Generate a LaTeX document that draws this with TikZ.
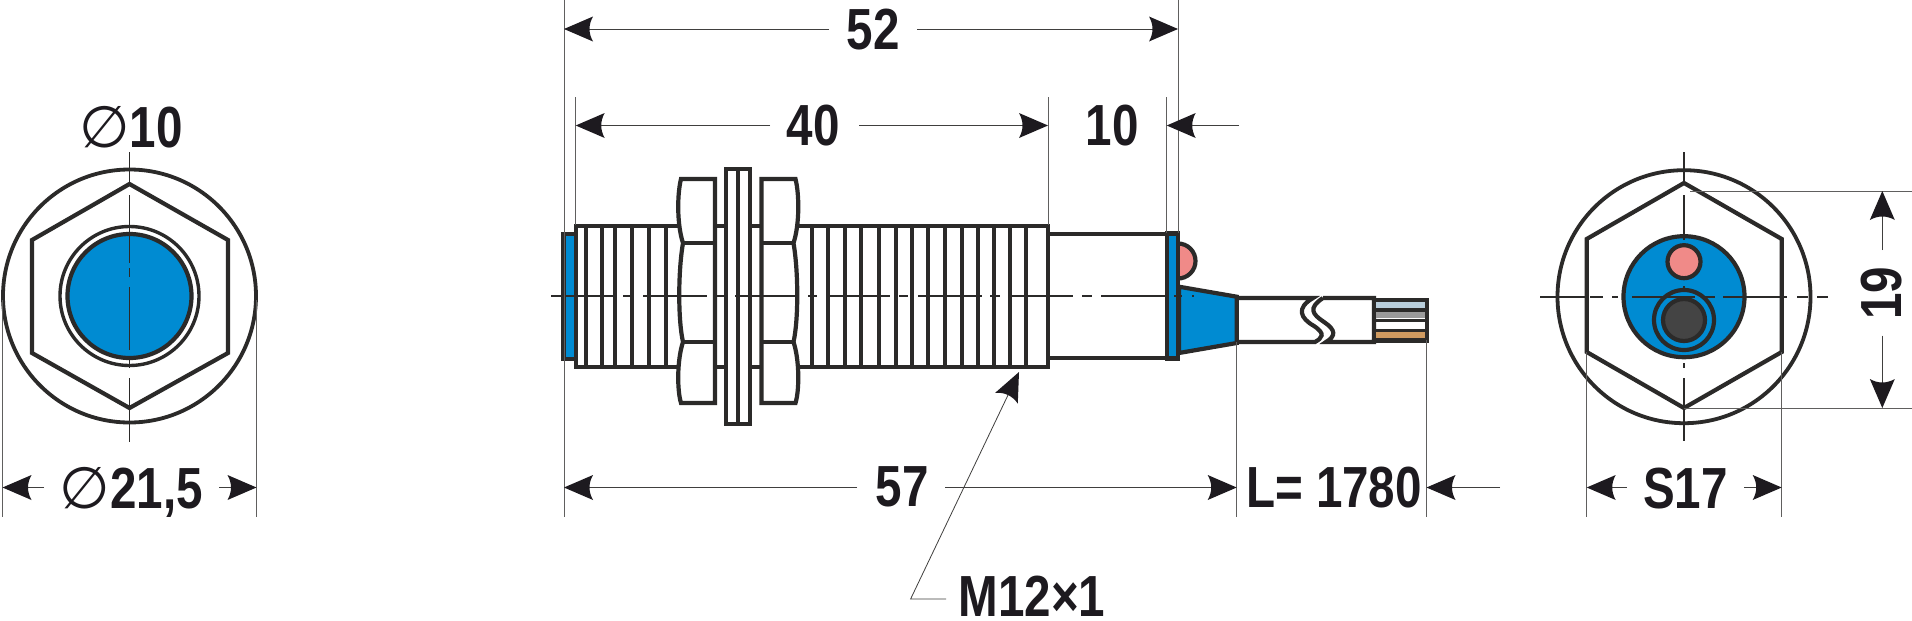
\documentclass[tikz,border=0pt]{standalone}
\usepackage{fontspec}
\setmainfont{Liberation Sans}[FakeStretch=0.82,BoldFont={Liberation Sans Bold}]
\newfontfamily\dejafont{DejaVu Sans}
\usetikzlibrary{arrows.meta}
\definecolor{ink}{HTML}{2B2A29}
\definecolor{txt}{HTML}{1D1A1F}
\definecolor{sblue}{HTML}{008BD2}
\definecolor{sred}{HTML}{F08A88}
\definecolor{sdark}{HTML}{444444}
\definecolor{wblue}{HTML}{B9CEDB}
\definecolor{wgray}{HTML}{9A9A9A}
\definecolor{wor}{HTML}{CF9A60}
\pgfdeclarearrow{name=DimTip,
  setup code={\pgfarrowssettipend{0pt}\pgfarrowssetlineend{-22pt}\pgfarrowssetbackend{-29pt}\pgfarrowshullpoint{0pt}{0pt}\pgfarrowshullpoint{-29pt}{12.5pt}\pgfarrowshullpoint{-29pt}{-12.5pt}},
  drawing code={\pgfpathmoveto{\pgfpoint{0pt}{0pt}}\pgfpathlineto{\pgfpoint{-29pt}{12.5pt}}\pgfpathquadraticcurveto{\pgfpoint{-22pt}{0pt}}{\pgfpoint{-29pt}{-12.5pt}}\pgfpathclose\pgfusepathqfill},
  defaults={}}
\tikzset{
  part/.style={draw=ink,line width=4.2pt,line join=miter},
  thin part/.style={draw=ink,line width=3.8pt},
  axis/.style={draw=ink,line width=1.6pt},
  ext/.style={draw=ink!75,line width=1pt},
  dimline/.style={draw=ink!90,line width=1pt,-{DimTip[fill=txt]}},
  label/.style={inner sep=0pt,text=txt,font=\fontsize{58}{60}\selectfont\bfseries,text depth=0pt},
}
\begin{document}
\begin{tikzpicture}[x=1pt,y=-1pt,line cap=butt]
\useasboundingbox (0,0) rectangle (1912,621);
\fill[white] (0,0) rectangle (1912,621);
% ---- left view
\coordinate (lc) at (129.5,296);
\draw[part,line width=3.8pt] (lc) circle[radius=126.5];
\draw[part] (129.5,184)--(228,240)--(228,353)--(129.5,408)--(32,353)--(32,240)--cycle;
\draw[part,line width=3.4pt] (lc) circle[radius=69.5];
\draw[part,fill=sblue] (lc) circle[radius=62];
\foreach \a/\b in {152/184,195/263,268/277,287/350,360/368,378/442}
  \draw[axis] (129.5,\a)--(129.5,\b);
\node[label] (dia10) at (131,126.5) {{\dejafont\mdseries ∅}10};
\node[label] (dia21) at (131.5,487.5) {{\dejafont\mdseries ∅}21,5};
\coordinate (l1) at (2.5,300); \coordinate (l1b) at (2.5,517);
\coordinate (l2) at (256.5,300); \coordinate (l2b) at (256.5,517);
\draw[ext] (l1)--(l1b); \draw[ext] (l2)--(l2b);
\coordinate (l1a) at (2.5,487.5); \coordinate (l1t) at (44,487.5);
\coordinate (l2a) at (256.5,487.5); \coordinate (l2t) at (219,487.5);
\draw[dimline] (l1t)--(l1a); \draw[dimline] (l2t)--(l2a);
% ---- sensor body
\draw[part,fill=white] (576,225.7) rectangle (1048,367);
\foreach \x in {585.7,602,615,631.7,649,666,811.7,828,845,861,879,895.7,911.7,928.3,945,961.7,977.7,994.3,1009.7,1026.3}
  \draw[thin part] (\x,225.7)--(\x,367);
\draw[part,fill=sblue] (563.5,234) rectangle (576,359);
% nuts
\begin{scope}
\draw[part,fill=white] (681,179)--(715,179)--(715,403)--(681,403)
  .. controls (677,390) and (677,360) .. (683,342)
  .. controls (678,320) and (678,272) .. (683,243)
  .. controls (677,225) and (677,195) .. (681,179)--cycle;
\draw[part] (683,243)--(715,243) (683,342)--(715,342);
\end{scope}
\begin{scope}[shift={(1476.5,0)},xscale=-1]
\draw[part,fill=white] (681,179)--(715,179)--(715,403)--(681,403)
  .. controls (677,390) and (677,360) .. (683,342)
  .. controls (678,320) and (678,272) .. (683,243)
  .. controls (677,225) and (677,195) .. (681,179)--cycle;
\draw[part] (683,243)--(715,243) (683,342)--(715,342);
\end{scope}
\draw[part,fill=white] (726,169) rectangle (750,424);
\draw[part] (738,169)--(738,424);
% rear
\draw[part,fill=white] (1048,234) rectangle (1166.7,358);
\draw[part,fill=sred] (1178,243.5) arc[start angle=-90,end angle=90,radius=17.5];
\draw[part,fill=sblue] (1166.7,233.5) rectangle (1178,358.5);
\draw[part,fill=sblue] (1179,286.7)--(1236.7,296.7)--(1236.7,343)--(1179,353)--cycle;
% cable
\draw[part] (1236.7,298)--(1313,298) .. controls (1296,308) and (1300,318) .. (1314,326) .. controls (1326,334) and (1322,338) .. (1315,342)--(1236.7,342);
\draw[part] (1323,298)--(1374,298)--(1374,342)--(1326,342) .. controls (1336,336) and (1336,330) .. (1324,322) .. controls (1312,314) and (1308,308) .. (1323,298);
% wires
\fill[wblue] (1374,302) rectangle (1427,308);
\fill[wgray] (1374,312) rectangle (1427,318);
\fill[wor] (1374,332) rectangle (1427,338);
\draw[part] (1374,300) rectangle (1427,340.5);
\draw[part,line width=3.6pt] (1374,310)--(1427,310) (1374,320.3)--(1427,320.3) (1374,330.3)--(1427,330.3);
% centre line
\foreach \a/\b in {551/613,623/634,643/707,717/725,735/797,808/817,827/890,899/908,918/982,990/1000,1011/1073,1082/1092,1101/1166,1174/1176,1180/1182,1192/1194}
  \draw[axis] (\a,296)--(\b,296);
% extension lines
\coordinate (e52l) at (564,0); \coordinate (e52lb) at (564,517);
\coordinate (e52r) at (1178,0); \coordinate (e52rb) at (1178,233);
\coordinate (e40l) at (575.7,97); \coordinate (e40lb) at (575.7,225);
\coordinate (e40r) at (1048,97); \coordinate (e40rb) at (1048,225);
\coordinate (e10r) at (1166.7,97); \coordinate (e10rb) at (1166.7,233);
\coordinate (e57r) at (1236.7,342); \coordinate (e57rb) at (1236.7,517);
\coordinate (eLr) at (1426.5,340); \coordinate (eLrb) at (1426.5,517);
\draw[ext] (e52l)--(e52lb); \draw[ext] (e52r)--(e52rb);
\draw[ext] (e40l)--(e40lb); \draw[ext] (e40r)--(e40rb);
\draw[ext] (e10r)--(e10rb); \draw[ext] (e57r)--(e57rb); \draw[ext] (eLr)--(eLrb);
% dims
\node[label] (t52) at (873,29.5) {52};
\node[label] (t40) at (813,125.5) {40};
\node[label] (t10) at (1112,125.5) {10};
\node[label] (t57) at (902,487) {57};
\node[label] (tL) at (1334,487) {L= 1780};
\node[label] (tM) at (1032,596) {M12×1};
\coordinate (a52l) at (564,29); \coordinate (b52l) at (829,29);
\coordinate (a52r) at (1178,29); \coordinate (b52r) at (917,29);
\draw[dimline] (b52l)--(a52l); \draw[dimline] (b52r)--(a52r);
\coordinate (a40l) at (575.7,125.5); \coordinate (b40l) at (770,125.5);
\coordinate (a40r) at (1048,125.5); \coordinate (b40r) at (859,125.5);
\draw[dimline] (b40l)--(a40l); \draw[dimline] (b40r)--(a40r);
\coordinate (a10) at (1166.7,125.5); \coordinate (b10) at (1239,125.5);
\draw[dimline] (b10)--(a10);
\coordinate (a57l) at (564,487.5); \coordinate (b57l) at (857,487.5);
\coordinate (a57r) at (1236.7,487.5); \coordinate (b57r) at (945,487.5);
\draw[dimline] (b57l)--(a57l); \draw[dimline] (b57r)--(a57r);
\coordinate (aL) at (1426.5,487.5); \coordinate (bL) at (1500,487.5);
\draw[dimline] (bL)--(aL);
\coordinate (mtip) at (1019,372); \coordinate (mk) at (910.6,599);
\coordinate (mend) at (946,599);
\draw[dimline,line width=.8pt] (mend)--(mk)--(mtip);
% ---- right view
\coordinate (rc) at (1684,296.7);
\draw[part,line width=3.8pt] (rc) circle[radius=126.5];
\draw[part] (1684,183)--(1781.7,239)--(1781.7,352)--(1684,408)--(1586.7,352)--(1586.7,239)--cycle;
\draw[part,fill=sblue] (rc) circle[radius=60.5];
\draw[part,fill=sred] (1684,261.7) circle[radius=16.5];
\draw[part,fill=sblue] (1684,320) circle[radius=30];
\draw[part,fill=sdark] (1684,320) circle[radius=21];
\foreach \a/\b in {152/183,195/240,286/288,363/368,378/441}
  \draw[axis] (1684,\a)--(1684,\b);
\foreach \a/\b in {1540/1587,1590/1603,1612/1618,1632/1695,1705/1715,1723/1787,1797/1808,1817/1828}
  \draw[axis] (\a,296.7)--(\b,296.7);
\coordinate (s1) at (1586.7,352); \coordinate (s1b) at (1586.7,517);
\coordinate (s2) at (1781.7,352); \coordinate (s2b) at (1781.7,517);
\draw[ext] (s1)--(s1b); \draw[ext] (s2)--(s2b);
\node[label] (tS) at (1685.5,488) {S17};
\coordinate (sa1) at (1586.7,487.5); \coordinate (st1) at (1626.7,487.5);
\coordinate (sa2) at (1781.7,487.5); \coordinate (st2) at (1744,487.5);
\draw[dimline] (st1)--(sa1); \draw[dimline] (st2)--(sa2);
\coordinate (h1) at (1690,191); \coordinate (h1e) at (1912,191);
\coordinate (h2) at (1684,408); \coordinate (h2e) at (1912,408);
\draw[ext] (h1)--(h1e); \draw[ext] (h2)--(h2e);
\node[label,rotate=90] (t19) at (1881.5,293) {19};
\coordinate (v1) at (1882.3,191); \coordinate (v1t) at (1882.3,250);
\coordinate (v2) at (1882.3,408); \coordinate (v2t) at (1882.3,335.7);
\draw[dimline] (v1t)--(v1); \draw[dimline] (v2t)--(v2);
\end{tikzpicture}
\end{document}
